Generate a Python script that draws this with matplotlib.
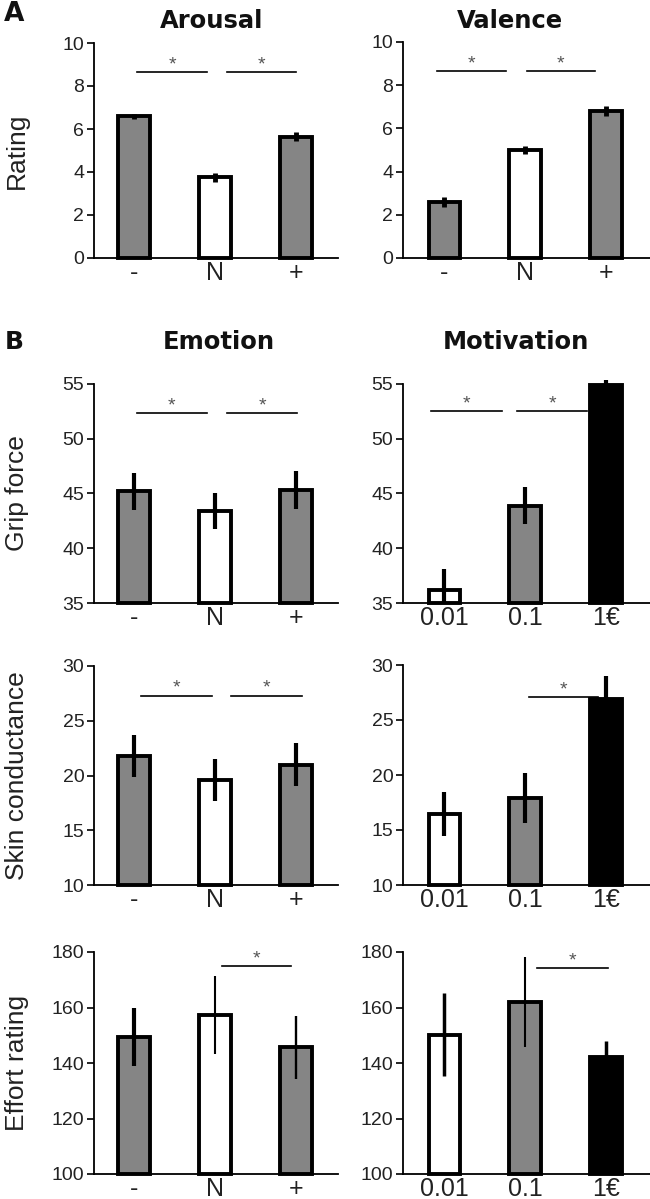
import matplotlib
matplotlib.use("Agg")
import matplotlib.pyplot as plt

############################
#% DATA
############################
emo_labels = ["-", "N", "+"]
mot_labels = ["0.01", "0.1", "1€"]

arousal = [6.6, 3.75, 5.65]
arousal_err = [0.12, 0.2, 0.22]
valence = [2.6, 5.0, 6.8]
valence_err = [0.22, 0.2, 0.22]

grip_emo = [45.2, 43.4, 45.3]
grip_emo_err = [1.7, 1.6, 1.75]
grip_mot = [36.2, 43.9, 54.9]
grip_mot_err = [1.9, 1.7, 0.5]

skin_emo = [21.8, 19.6, 21.0]
skin_emo_err = [1.9, 1.9, 2.0]
skin_mot = [16.5, 17.9, 26.9]
skin_mot_err = [2.0, 2.3, 2.1]

effort_emo = [149.5, 157.3, 145.6]
effort_emo_err = [10.5, 14.0, 11.4]
effort_mot = [150.2, 162.0, 142.0]
effort_mot_err = [15.0, 16.3, 6.0]

# significance bars: (x start, x end, y)
sig_arousal = [(0.04, 0.91, 8.67), (1.15, 2.0, 8.67)]
sig_valence = [(-0.09, 0.76, 8.65), (1.02, 1.86, 8.65)]
sig_grip_emo = [(0.04, 0.90, 52.35), (1.15, 2.02, 52.35)]
sig_grip_mot = [(-0.16, 0.71, 52.5), (0.90, 1.76, 52.5)]
sig_skin_emo = [(0.09, 0.96, 27.3), (1.2, 2.08, 27.3)]
sig_skin_mot = [(1.04, 1.9, 27.1)]
sig_effort_emo = [(1.09, 1.94, 174.8)]
sig_effort_mot = [(1.15, 2.02, 174.1)]

############################
#% STYLE
############################
GRAY = "#858585"
emo_colors = [GRAY, "white", GRAY]
mot_colors = ["white", GRAY, "black"]
TXT = "#222222"
SANS = ["Liberation Sans", "DejaVu Sans"]

W, H = 650, 1199
fig = plt.figure(figsize=(W / 100, H / 100), dpi=100)


def panel(px_left, px_right, px_top, px_bot, xlim, vals, errs, colors, labels,
          ylim, yticks, sigs, errlw, ylabel=None):
    ax = fig.add_axes([px_left / W, 1 - px_bot / H,
                       (px_right - px_left) / W, (px_bot - px_top) / H])
    x = range(len(vals))
    # bars start at the lower axis limit so that they may poke out at the top
    ax.bar(x, [v - ylim[0] for v in vals], bottom=ylim[0], width=0.39,
           color=colors, edgecolor="black", linewidth=2.8, zorder=2,
           clip_on=False)
    for xi, v, e, lw in zip(x, vals, errs, errlw):
        ax.plot([xi, xi], [max(v - e, ylim[0]), v + e], color="black", lw=lw,
                solid_capstyle="butt", zorder=3, clip_on=False)
    for x0, x1, y in sigs:
        ax.plot([x0, x1], [y, y], color="black", lw=1.2, zorder=3,
                clip_on=False)
        ax.annotate("*", xy=((x0 + x1) / 2, y), xytext=(0, -1),
                    textcoords="offset points", ha="center", va="bottom",
                    fontsize=14, color="#555555", family=SANS)
    ax.set_xlim(*xlim)
    ax.set_ylim(*ylim)
    ax.set_yticks(yticks)
    ax.set_yticklabels([str(t) for t in yticks], family=SANS, fontsize=14,
                       color=TXT)
    ax.set_xticks(list(x))
    ax.set_xticklabels(labels, family=SANS, fontsize=18, color=TXT)
    ax.tick_params(axis="x", length=0, pad=2)
    ax.tick_params(axis="y", length=5, width=1.2, pad=2)
    for s in ["top", "right"]:
        ax.spines[s].set_visible(False)
    for s in ["left", "bottom"]:
        ax.spines[s].set_linewidth(1.3)
        ax.spines[s].set_zorder(4)
    if ylabel:
        fig.text(17 / W, 1 - (px_top + px_bot) / 2 / H, ylabel, rotation=90,
                 ha="center", va="center", family=SANS, fontsize=19,
                 color=TXT)
    return ax


LX = (94, 338, (-0.49, 2.52))
RX = (403, 650, (-0.51, 2.54))

# row A
panel(LX[0], LX[1], 43, 258, LX[2], arousal, arousal_err, emo_colors,
      emo_labels, (0, 10), [0, 2, 4, 6, 8, 10], sig_arousal, [3.5] * 3,
      "Rating")
panel(RX[0], RX[1], 42, 258, RX[2], valence, valence_err, emo_colors,
      emo_labels, (0, 10), [0, 2, 4, 6, 8, 10], sig_valence, [3.5] * 3)

# row B1
panel(LX[0], LX[1], 384, 603, LX[2], grip_emo, grip_emo_err, emo_colors,
      emo_labels, (35, 55), [35, 40, 45, 50, 55], sig_grip_emo, [3] * 3,
      "Grip force")
panel(RX[0], RX[1], 384, 603, RX[2], grip_mot, grip_mot_err, mot_colors,
      mot_labels, (35, 55), [35, 40, 45, 50, 55], sig_grip_mot, [3] * 3)

# row B2
panel(LX[0], LX[1], 666, 885, LX[2], skin_emo, skin_emo_err, emo_colors,
      emo_labels, (10, 30), [10, 15, 20, 25, 30], sig_skin_emo, [3] * 3,
      "Skin conductance")
panel(RX[0], RX[1], 665, 885, RX[2], skin_mot, skin_mot_err, mot_colors,
      mot_labels, (10, 30), [10, 15, 20, 25, 30], sig_skin_mot, [3] * 3)

# row B3
panel(LX[0], LX[1], 952, 1174, LX[2], effort_emo, effort_emo_err, emo_colors,
      emo_labels, (100, 180), [100, 120, 140, 160, 180], sig_effort_emo,
      [3, 1.5, 1.7], "Effort rating")
panel(RX[0], RX[1], 952, 1174, RX[2], effort_mot, effort_mot_err, mot_colors,
      mot_labels, (100, 180), [100, 120, 140, 160, 180], sig_effort_mot,
      [2.5, 1.5, 2.5])

# titles and panel letters
def ftext(px, py, s, size):
    fig.text(px / W, 1 - py / H, s, ha="center", va="center", fontsize=size,
             fontweight="bold", family="DejaVu Sans", color="#111111")

ftext(14, 14, "A", 19)
ftext(212, 21, "Arousal", 17.5)
ftext(510, 21, "Valence", 17.5)
ftext(14, 342, "B", 18)
ftext(219, 342, "Emotion", 17.5)
ftext(516, 342, "Motivation", 17.5)

fig.savefig("out.png", dpi=100)
